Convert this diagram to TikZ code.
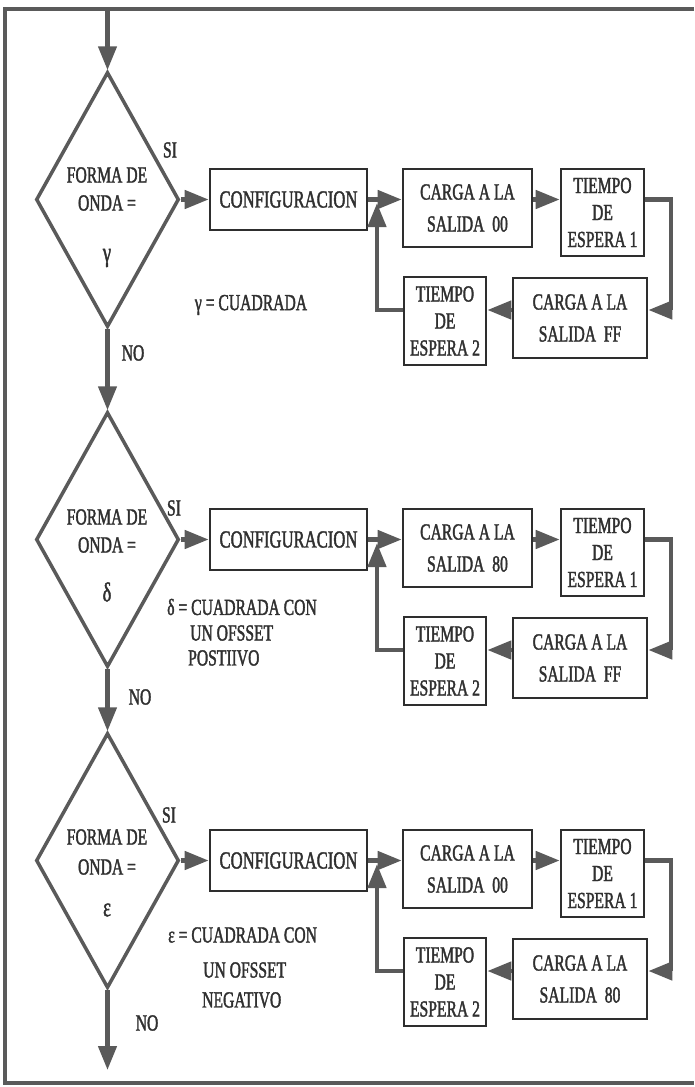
\documentclass[tikz,border=0pt]{standalone}
\usepackage{fontspec}
\setmainfont{Liberation Serif}[FakeStretch=0.68,FakeBold=1.6]
\usetikzlibrary{shapes.geometric,arrows.meta}
\definecolor{lc}{HTML}{5A5A5A}
\definecolor{bc}{HTML}{2E2E2E}
\definecolor{tc}{HTML}{303030}
\tikzset{
  lbl/.style={inner sep=0pt, text=tc, font=\fontsize{23}{27}\selectfont},
  dec/.style={diamond, draw=lc, line width=3.5pt, minimum width=143pt, minimum height=255pt, inner sep=0pt},
  box/.style={draw=bc, line width=2.6pt, fill=white, align=center, inner sep=0pt, text=tc, font=\fontsize{23}{27}\selectfont},
  cfgbox/.style={box, minimum width=157pt, minimum height=61pt, font=\fontsize{24.5}{28}\selectfont},
  cargabox/.style={box, font=\fontsize{23}{32}\selectfont},
  greek/.style={lbl, font=\fontsize{27}{30}\selectfont},
  flow/.style={draw=lc, line width=4.5pt, -{Triangle[length=24pt,width=18pt]}},
  frameline/.style={draw=lc, line width=3.5pt},
}
\newcommand\bloque[4]{%
  \node[dec] (d#1) at (107.5,{#2+2.5}) {};
  \node[cfgbox] (cfg#1) at (288.5,{#2+2.5}) {CONFIGURACION};
  \node[cargabox, minimum width=129pt, minimum height=78pt] (ca#1) at (467.5,{#2+11}) {CARGA A LA\\SALIDA~~#3};
  \node[box, minimum width=83pt, minimum height=87pt] (ta#1) at (602.5,{#2+15.5}) {TIEMPO\\DE\\ESPERA 1};
  \node[cargabox, minimum width=134pt, minimum height=80pt] (cb#1) at (580,{#2+121}) {CARGA A LA\\SALIDA~~#4};
  \node[box, minimum width=82pt, minimum height=88pt] (tb#1) at (445,{#2+124}) {TIEMPO\\DE\\ESPERA 2};
  \coordinate (p#1) at (671,{#2+2.5});
  \coordinate (q#1) at (671,{#2+113});
  \coordinate (j#1) at (377,{#2+6});
  \draw[flow] (d#1.east) -- (cfg#1.west);
  \draw[flow] (cfg#1.east) -- (cfg#1.east -| ca#1.west);
  \draw[flow] (ca#1.east |- p#1) -- (ta#1.west |- p#1);
  \draw[flow] (ta#1.east |- p#1) -- (p#1) -- (q#1) -- (cb#1.east |- q#1);
  \draw[flow] (cb#1.west |- q#1) -- (tb#1.east |- q#1);
  \draw[flow] (tb#1.west |- q#1) -- (j#1 |- q#1) -- (j#1);
}
\begin{document}
\begin{tikzpicture}[x=1pt,y=-1pt]
\useasboundingbox (0,0) rectangle (694,1087);
\draw[frameline] (694,9) -- (5,9) -- (5,1083) -- (694,1083);

\bloque{1}{197}{00}{FF}
\bloque{2}{537}{80}{FF}
\bloque{3}{858}{00}{80}

\coordinate (start) at (107.5,9);
\coordinate (fin) at (107.5,1070);
\draw[flow] (start) -- (d1.north);
\draw[flow] (d1.south) -- (d2.north);
\draw[flow] (d2.south) -- (d3.north);
\draw[flow] (d3.south) -- (fin);

% section 1 labels
\node[lbl] (si1) at (170,150) {SI};
\node[lbl] (fo1) at (107,175) {FORMA DE};
\node[lbl] (on1) at (107,203) {ONDA =};
\node[greek] (g1) at (107,258) {γ};
\node[lbl] (an1) at (251,305) {γ = CUADRADA};
\node[lbl] (no1) at (133,353) {NO};

% section 2 labels
\node[lbl] (si2) at (174,508) {SI};
\node[lbl] (fo2) at (107,517) {FORMA DE};
\node[lbl] (on2) at (107,545) {ONDA =};
\node[greek] (g2) at (107,592) {δ};
\node[lbl, anchor=west] (an2a) at (167,607) {δ = CUADRADA CON};
\node[lbl, anchor=west] (an2b) at (190,633) {UN OFSSET};
\node[lbl, anchor=west] (an2c) at (188,658) {POSTIIVO};
\node[lbl] (no2) at (140,697) {NO};

% section 3 labels
\node[lbl] (si3) at (169,815) {SI};
\node[lbl] (fo3) at (107,837) {FORMA DE};
\node[lbl] (on3) at (107,867) {ONDA =};
\node[greek] (g3) at (107,910) {ε};
\node[lbl, anchor=west] (an3a) at (168,935) {ε = CUADRADA CON};
\node[lbl, anchor=west] (an3b) at (203,970) {UN OFSSET};
\node[lbl, anchor=west] (an3c) at (202,1000) {NEGATIVO};
\node[lbl] (no3) at (147,1023) {NO};
\end{tikzpicture}
\end{document}
